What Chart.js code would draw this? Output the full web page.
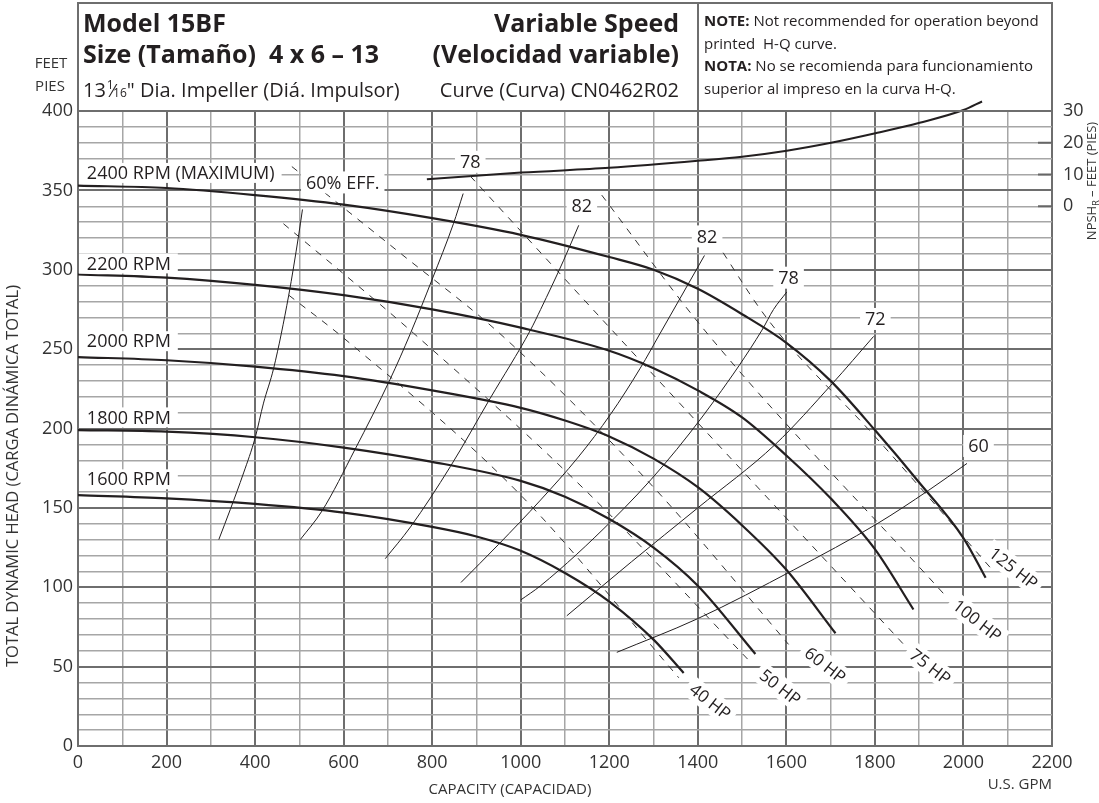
<!DOCTYPE html>
<html>
<head>
<meta charset="utf-8">
<title>Model 15BF - Variable Speed</title>
<script src="https://cdn.jsdelivr.net/npm/chart.js@4.4.0/dist/chart.umd.min.js"></script>
<style>
  body { margin: 0; background: #fff; }
  #wrap { width: 1099px; height: 803px; }
</style>
</head>
<body>
<div id="wrap"><canvas id="chart" width="1099" height="803"></canvas></div>
<script>
// tick labels
const gpmTicks = [0, 200, 400, 600, 800, 1000, 1200, 1400, 1600, 1800, 2000, 2200];
const headTicks = [0, 50, 100, 150, 200, 250, 300, 350, 400];
const npshTicks = [0, 10, 20, 30];

// H-Q curves (capacity in US GPM, head in feet)
const q2400 = [0, 200, 400, 600, 800, 1000, 1200, 1300, 1400, 1500, 1600, 1700, 1800, 1900, 2000, 2050];
const h2400 = [353, 351.5, 347, 341, 332.5, 322, 308, 300, 288, 272, 254, 230, 199, 166, 131, 106];
const q2200 = [0, 200, 400, 600, 800, 1000, 1200, 1300, 1400, 1500, 1600, 1700, 1800, 1887];
const h2200 = [297, 295, 290.5, 284, 275, 263.5, 249, 238, 224, 207, 183, 156, 124, 86];
const q2000 = [0, 200, 400, 600, 800, 1000, 1100, 1200, 1300, 1400, 1500, 1600, 1711];
const h2000 = [245, 243, 239, 233, 224, 213, 205, 195, 181, 163, 139, 111, 71];
const q1800 = [0, 200, 400, 600, 800, 1000, 1100, 1200, 1300, 1400, 1530];
const h1800 = [199, 198, 194.5, 188, 179, 167, 157, 143, 125, 101, 58];
const q1600 = [0, 200, 400, 600, 800, 900, 1000, 1100, 1200, 1300, 1368];
const h1600 = [158, 156, 152.5, 147, 138, 132, 123, 109, 91, 67, 46];

// efficiency curves
const qEff60a = [318, 344, 374, 400, 419, 442, 476, 498, 507];
const hEff60a = [130, 149, 172, 194, 216, 238, 284, 321, 338];
const qEff78a = [502, 551, 626, 705, 751, 800, 848, 870];
const hEff78a = [130, 148, 187, 231, 260, 294, 329, 348];
const qEff82a = [694, 751, 841, 931, 1022, 1045, 1097, 1131];
const hEff82a = [118, 138, 176, 219, 262, 275, 306, 328];
const qEff82b = [865, 950, 1045, 1130, 1203, 1270, 1315, 1360, 1415];
const hEff82b = [103, 127, 155, 182, 209, 238, 260, 282, 309];
const qEff78b = [1000, 1045, 1206, 1323, 1441, 1545, 1571, 1601];
const hEff78b = [92, 101, 142, 177, 219, 262, 275, 286];
const qEff72 = [1104, 1250, 1400, 1575, 1703, 1797];
const hEff72 = [82, 116, 150, 190, 228, 258];
const qEff60b = [1217, 1398, 1617, 1805, 1921, 2008];
const hEff60b = [59, 80, 111, 140, 161, 178];

// horsepower lines
const qHp40 = [476, 600, 1000, 1357];
const hHp40 = [284, 257, 158, 43];
const qHp50 = [464, 758, 1150, 1515];
const hHp50 = [329, 260, 160, 54];
const qHp60 = [483, 730, 960, 1300, 1605];
const hHp60 = [365, 310, 258, 163, 64];
const qHp75 = [886, 1206, 1865];
const hHp75 = [359, 262, 64];
const qHp100 = [1183, 1415, 1955];
const hHp100 = [347, 262, 96];
const qHp125 = [1440, 1560, 1800, 2065];
const hHp125 = [318, 268, 195, 111];

// NPSHr curve (feet, right axis)
const qNpsh = [788, 1001, 1200, 1400, 1500, 1601, 1701, 1801, 1901, 2000, 2042];
const hNpsh = [8.5, 10.6, 12.1, 14.3, 15.6, 17.5, 20, 23, 26.3, 30.3, 33];

// labels
const rpmLabels = ['2400 RPM (MAXIMUM)', '2200 RPM', '2000 RPM', '1800 RPM', '1600 RPM'];
const rpmLabelH = [361, 304, 255, 207, 168];
const effLabels = ['60% EFF.', '78', '82', '82', '78', '72', '60'];
const effLabelQ = [598, 886, 1138, 1421, 1605, 1801, 2034];
const effLabelH = [355, 368, 340, 321, 295, 269, 189];
const hpLabels = ['40 HP', '50 HP', '60 HP', '75 HP', '100 HP', '125 HP'];
const hpLabelQ = [1428, 1586, 1688, 1925, 2031, 2113];
const hpLabelH = [28, 37, 51, 50, 79, 112];

const FONT = "'Open Sans', sans-serif";
const INK = '#231f20';

function pts(qs, hs) {
    return qs.map((q, i) => ({ x: q, y: hs[i] }));
}

function head(qs, hs) {
    return { data: pts(qs, hs), borderColor: INK, borderWidth: 2.2, cubicInterpolationMode: 'monotone' };
}
function eff(qs, hs) {
    return { data: pts(qs, hs), borderColor: INK, borderWidth: 1, cubicInterpolationMode: 'monotone' };
}
function hp(qs, hs) {
    return { data: pts(qs, hs), borderColor: '#333', borderWidth: 1, borderDash: [7, 7], cubicInterpolationMode: 'monotone' };
}

// white-boxed text, optionally rotated
function boxText(ctx, t, px, py, angle) {
    ctx.save();
    ctx.translate(px, py);
    if (angle) ctx.rotate(angle * Math.PI / 180);
    const w = ctx.measureText(t).width;
    ctx.fillStyle = '#fff';
    ctx.fillRect(-w / 2 - 5, -11, w + 10, 22);
    ctx.fillStyle = INK;
    ctx.textAlign = 'center';
    ctx.textBaseline = 'middle';
    ctx.fillText(t, 0, 1);
    ctx.restore();
}

const curveLabels = {
    id: 'curveLabels',
    afterDatasetsDraw(chart) {
        const ctx = chart.ctx, x = chart.scales.x, y = chart.scales.y, area = chart.chartArea;
        ctx.save();
        ctx.font = '18px ' + FONT;
        rpmLabels.forEach((t, i) => {
            const px = x.getPixelForValue(20), py = y.getPixelForValue(rpmLabelH[i]);
            const w = ctx.measureText(t).width;
            ctx.fillStyle = '#fff';
            ctx.fillRect(area.left + 1, py - 10, px - area.left + w + 6, 20);
            ctx.fillStyle = INK;
            ctx.textAlign = 'left';
            ctx.textBaseline = 'middle';
            ctx.fillText(t, px, py + 1);
        });
        effLabels.forEach((t, i) => {
            boxText(ctx, t, x.getPixelForValue(effLabelQ[i]), y.getPixelForValue(effLabelH[i]), 0);
        });
        ctx.font = '17px ' + FONT;
        hpLabels.forEach((t, i) => {
            boxText(ctx, t, x.getPixelForValue(hpLabelQ[i]), y.getPixelForValue(hpLabelH[i]), 38);
        });
        // NPSH ticks point inward from the right edge
        const y2 = chart.scales.y2;
        ctx.strokeStyle = '#666';
        ctx.lineWidth = 2;
        npshTicks.slice(0, 3).forEach(v => {
            const py = y2.getPixelForValue(v);
            ctx.beginPath();
            ctx.moveTo(area.right - 14, py);
            ctx.lineTo(area.right, py);
            ctx.stroke();
        });
        ctx.restore();
    }
};

const header = {
    id: 'header',
    afterDraw(chart) {
        const ctx = chart.ctx, area = chart.chartArea;
        ctx.save();
        ctx.strokeStyle = '#6e6e6e';
        ctx.lineWidth = 2;
        ctx.strokeRect(area.left, 3, area.right - area.left, area.top - 3);
        ctx.beginPath();
        ctx.moveTo(698, 3);
        ctx.lineTo(698, area.top);
        ctx.stroke();

        ctx.fillStyle = INK;
        ctx.textBaseline = 'alphabetic';
        ctx.textAlign = 'left';
        ctx.font = 'bold 25px ' + FONT;
        ctx.fillText('Model 15BF', 83, 32);
        ctx.fillText('Size (Tamaño)  4 x 6 – 13', 83, 63);
        ctx.textAlign = 'right';
        ctx.fillText('Variable Speed', 679, 32);
        ctx.fillText('(Velocidad variable)', 679, 63);
        ctx.font = '20px ' + FONT;
        ctx.fillText('Curve (Curva) CN0462R02', 679, 97);

        // impeller diameter with stacked fraction
        ctx.textAlign = 'left';
        let cx = 83;
        ctx.fillText('13', cx, 97); cx += ctx.measureText('13').width + 1;
        ctx.font = '12px ' + FONT;
        ctx.fillText('1', cx, 89); cx += ctx.measureText('1').width;
        ctx.font = '18px ' + FONT;
        ctx.fillText('⁄', cx - 2, 97); cx += ctx.measureText('⁄').width - 3;
        ctx.font = '12px ' + FONT;
        ctx.fillText('16', cx, 97); cx += ctx.measureText('16').width;
        ctx.font = '20px ' + FONT;
        ctx.fillText('" Dia. Impeller (Diá. Impulsor)', cx, 97);

        // note block
        const note = [['NOTE:', ' Not recommended for operation beyond'], ['', 'printed  H-Q curve.'],
            ['NOTA:', ' No se recomienda para funcionamiento'], ['', 'superior al impreso en la curva H-Q.']];
        note.forEach((ln, i) => {
            let nx = 704;
            const by = 26 + i * 22.5;
            ctx.font = 'bold 15px ' + FONT;
            ctx.fillText(ln[0], nx, by);
            nx += ctx.measureText(ln[0]).width;
            ctx.font = '15px ' + FONT;
            ctx.fillText(ln[1], nx, by);
        });

        // axis titles
        ctx.fillStyle = '#333';
        ctx.font = '15px ' + FONT;
        ctx.textAlign = 'center';
        ctx.fillText('FEET', 51, 68);
        ctx.fillText('PIES', 50, 91);
        ctx.fillText('CAPACITY (CAPACIDAD)', 510, 794);
        ctx.textAlign = 'right';
        ctx.fillText('U.S. GPM', area.right, 789);

        ctx.save();
        ctx.translate(18, 476);
        ctx.rotate(-Math.PI / 2);
        ctx.textAlign = 'center';
        ctx.font = '16.5px ' + FONT;
        ctx.fillText('TOTAL DYNAMIC HEAD (CARGA DINÁMICA TOTAL)', 0, 0);
        ctx.restore();

        // NPSHr title with subscript
        ctx.save();
        ctx.translate(1096, 181);
        ctx.rotate(-Math.PI / 2);
        ctx.font = '13px ' + FONT;
        const a = 'NPSH', b = ' – FEET (PIES)';
        const wa = ctx.measureText(a).width, wb = ctx.measureText(b).width;
        ctx.font = '9px ' + FONT;
        const wr = ctx.measureText('R').width;
        let tx = -(wa + wr + wb) / 2;
        ctx.textAlign = 'left';
        ctx.font = '13px ' + FONT;
        ctx.fillText(a, tx, 0); tx += wa;
        ctx.font = '9px ' + FONT;
        ctx.fillText('R', tx, 3); tx += wr;
        ctx.font = '13px ' + FONT;
        ctx.fillText(b, tx, 0);
        ctx.restore();
        ctx.restore();
    }
};

const ChartData = new Chart(document.getElementById('chart'), {
    type: 'line',
    data: {
        datasets: [
            head(q2400, h2400), head(q2200, h2200), head(q2000, h2000), head(q1800, h1800), head(q1600, h1600),
            eff(qEff60a, hEff60a), eff(qEff78a, hEff78a), eff(qEff82a, hEff82a), eff(qEff82b, hEff82b),
            eff(qEff78b, hEff78b), eff(qEff72, hEff72), eff(qEff60b, hEff60b),
            hp(qHp40, hHp40), hp(qHp50, hHp50), hp(qHp60, hHp60), hp(qHp75, hHp75), hp(qHp100, hHp100), hp(qHp125, hHp125),
            {
                data: pts(qNpsh, hNpsh), yAxisID: 'y2', borderColor: INK, borderWidth: 2,
                cubicInterpolationMode: 'monotone', clip: false
            }
        ]
    },
    options: {
        responsive: false,
        animation: false,
        events: [],
        layout: { padding: { top: 111, left: 0, right: 0, bottom: 0 } },
        elements: { point: { radius: 0 }, line: { fill: false } },
        plugins: { legend: { display: false }, tooltip: { enabled: false } },
        scales: {
            x: {
                type: 'linear', min: 0, max: 2200,
                ticks: {
                    stepSize: 100, autoSkip: false, maxRotation: 0, padding: 6,
                    color: '#333', font: { family: FONT, size: 18 },
                    callback: v => gpmTicks.includes(v) ? v : ''
                },
                grid: {
                    drawTicks: false,
                    color: c => c.tick.value % 200 === 0 ? '#6e6e6e' : '#a6a6a6',
                    lineWidth: c => c.tick.value % 200 === 0 ? 2 : 1.5
                },
                border: { color: '#6e6e6e', width: 2 },
                afterFit: s => { s.height = 57; }
            },
            y: {
                min: 0, max: 400,
                ticks: {
                    stepSize: 10, autoSkip: false, padding: 5,
                    color: '#333', font: { family: FONT, size: 18 },
                    callback: v => headTicks.includes(v) ? v : ''
                },
                grid: {
                    drawTicks: false,
                    color: c => c.tick.value % 50 === 0 ? '#6e6e6e' : '#a6a6a6',
                    lineWidth: c => c.tick.value % 50 === 0 ? 2 : 1.5
                },
                border: { color: '#6e6e6e', width: 2 },
                afterFit: s => { s.width = 78; }
            },
            y2: {
                position: 'right', min: -170, max: 30,
                ticks: {
                    stepSize: 10, autoSkip: false, padding: 3,
                    color: '#333', font: { family: FONT, size: 18 },
                    callback: v => npshTicks.includes(v) ? v : ''
                },
                grid: { display: false },
                border: { display: false },
                afterFit: s => { s.width = 47; }
            }
        }
    },
    plugins: [curveLabels, header]
});
</script>
</body>
</html>
